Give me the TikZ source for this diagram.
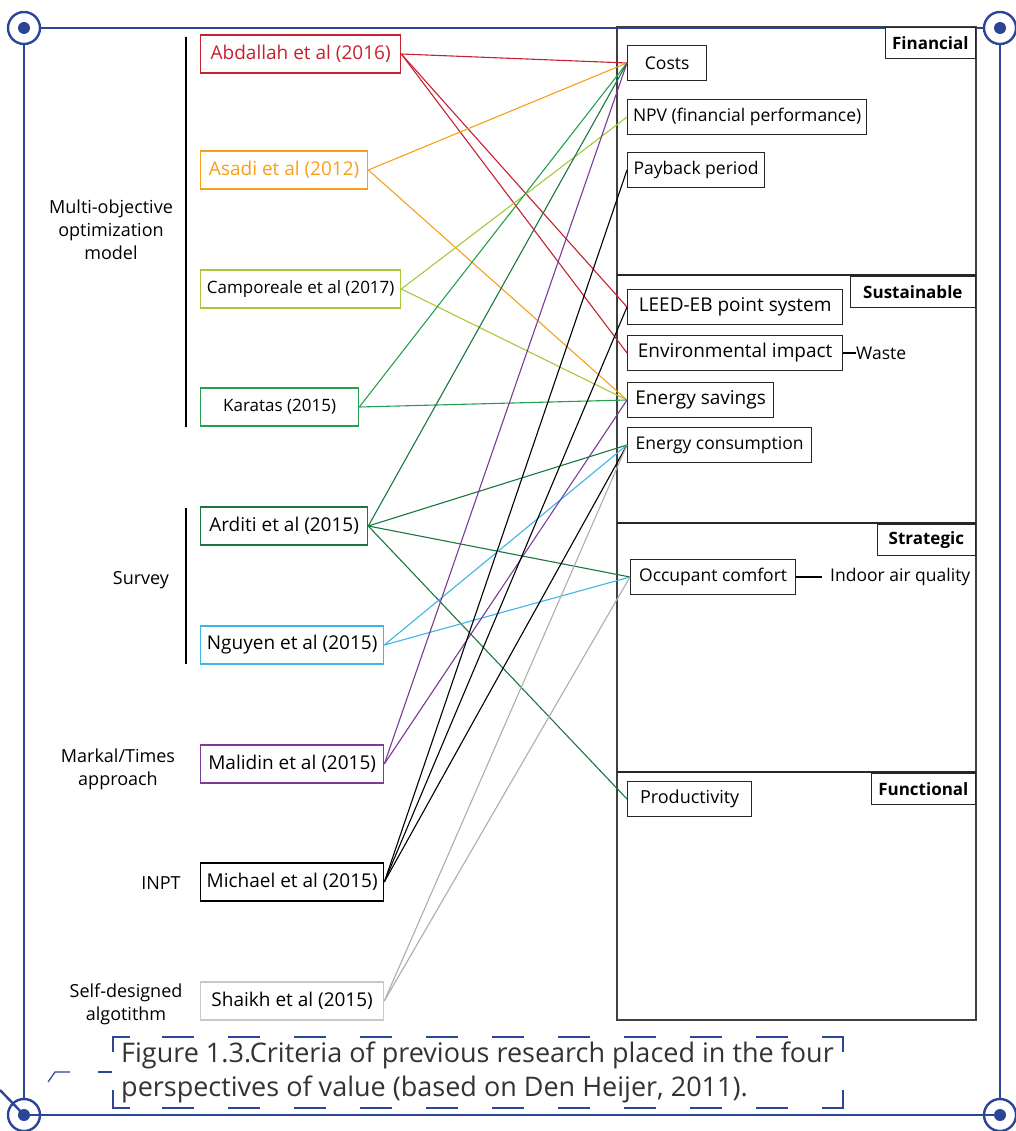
\documentclass[tikz,border=0pt]{standalone}
\usepackage{fontspec}
\setmainfont{Open Sans}
\usetikzlibrary{positioning,calc}

\definecolor{frameblue}{HTML}{2B4597}
\definecolor{cred}{HTML}{C8202F}
\definecolor{corange}{HTML}{F6A01A}
\definecolor{clgreen}{HTML}{A6C93A}
\definecolor{cgreen}{HTML}{24A04E}
\definecolor{cdgreen}{HTML}{1B7640}
\definecolor{cblue}{HTML}{3DB5E6}
\definecolor{cpurple}{HTML}{7B3A96}
\definecolor{cgray}{HTML}{ADADAD}
\definecolor{cboxgray}{HTML}{C9C9C9}
\definecolor{captiongray}{HTML}{333333}

\newcommand{\bigtext}{\fontsize{19}{22}\selectfont}
\newcommand{\midtext}{\fontsize{17.5}{21}\selectfont}

\tikzset{
  study/.style={draw, line width=1.3pt, minimum height=38, inner sep=0pt,
    font=\bigtext, anchor=west},
  crit/.style={draw=black!85, line width=1.3pt, fill=white, minimum height=35, inner sep=0pt,
    font=\midtext, anchor=west},
  persp/.style={draw=black!85, line width=1.3pt, fill=white, minimum height=31, inner sep=0pt,
    font=\fontsize{17}{20}\bfseries\selectfont, anchor=north east},
  method/.style={align=center, font=\fontsize{18}{23}\selectfont},
  link/.style={line width=1.1pt},
  capdash/.style={frameblue, line width=1.2pt}
}

\begin{document}
\begin{tikzpicture}[x=1pt, y=-1pt]
    \useasboundingbox (0,0) rectangle (1016,1131);
    \clip (0,0) rectangle (1016,1131);

    % page frame
    \draw[frameblue, line width=2.6pt] (24,1115) -- (24,28) -- (1000,28) -- (1000,1115) -- cycle;
    \foreach \cx/\cy in {24/28, 1000/28, 24/1115, 1000/1115} {
      \draw[frameblue, line width=2.4pt, fill=white] (\cx,\cy) circle (16);
      \fill[frameblue] (\cx,\cy) circle (6);
    }
    \draw[frameblue, line width=2.4pt] (0,1090) -- (24,1115);
    \draw[frameblue, line width=2.6pt] (24,1115) -- (1000,1115);

    % perspective columns
    \draw[black!75, line width=1.5pt] (617,27) rectangle (976,1020);
    \draw[black!85, line width=1.5pt] (617,275) -- (976,275);
    \draw[black!85, line width=1.5pt] (617,523) -- (976,523);
    \draw[black!85, line width=1.5pt] (617,772) -- (976,772);
    \node[persp, minimum width=90]  (fin)  at (976,27)  {Financial};
    \node[persp, minimum width=125] (sus)  at (976,276) {Sustainable};
    \node[persp, minimum width=98]  (str)  at (976,524) {Strategic};
    \node[persp, minimum width=104] (fun)  at (976,773) {Functional};

    % criteria
    \node[crit, minimum width=79]  (costs)   at (627,63)  {Costs};
    \node[crit, minimum width=239] (npv)     at (627,117) {NPV (financial performance)};
    \node[crit, minimum width=137] (payback) at (627,170) {Payback period};
    \node[crit, minimum width=215, font=\bigtext] (leed)   at (627,307) {LEED-EB point system};
    \node[crit, minimum width=215, font=\bigtext] (envimp) at (627,353) {Environmental impact};
    \node[crit, minimum width=146, font=\bigtext] (saving) at (627,400) {Energy savings};
    \node[crit, minimum width=184] (consum)  at (627,445) {Energy consumption};
    \node[crit, minimum width=165] (comfort) at (630,577) {Occupant comfort};
    \node[crit, minimum width=124, font=\fontsize{18}{21}\selectfont] (product) at (627,799) {Productivity};
    \node[anchor=west, inner sep=0pt, font=\midtext] (waste) at (856,353) {Waste};
    \node[anchor=west, inner sep=0pt, font=\midtext] (iaq) at (830,577) {Indoor air quality};
    \draw[line width=1.1pt] (envimp.east) -- (waste.west);
    \draw[line width=1.1pt] (comfort.east) -- ([xshift=-8]iaq.west);

    % studies
    \node[study, draw=cred, text=cred, minimum width=200]   (abdallah) at (200,54)   {Abdallah et al (2016)};
    \node[study, draw=corange, text=corange, minimum width=167] (asadi) at (200,170) {Asadi et al (2012)};
    \node[study, draw=clgreen, minimum width=200, font=\fontsize{17}{20}\selectfont] (campo) at (200,289) {Camporeale et al (2017)};
    \node[study, draw=cgreen, minimum width=158, font=\fontsize{17}{20}\selectfont] (karatas) at (200,407) {Karatas (2015)\hspace{14pt}};
    \node[study, draw=cdgreen, minimum width=167] (arditi)   at (200,526)  {Arditi et al (2015)};
    \node[study, draw=cblue, minimum width=183]   (nguyen)   at (200,645)  {Nguyen et al (2015)};
    \node[study, draw=cpurple, minimum width=183] (malidin)  at (200,764)  {Malidin et al (2015)};
    \node[study, draw=black, minimum width=183]   (michael)  at (200,882)  {Michael et al (2015)};
    \node[study, draw=cboxgray, minimum width=183] (shaikh)  at (200,1001) {Shaikh et al (2015)};

    % methods
    \node[method] (moo)    at (111,230) {Multi-objective\\optimization\\model};
    \node[method] (survey) at (141,580) {Survey};
    \node[method] (markal) at (118,769) {Markal/Times\\approach};
    \node[method] (inpt)   at (161,883) {INPT};
    \node[method] (selfd)  at (126,1004) {Self-designed\\algotithm};
    \coordinate (mooT) at (186,37);  \coordinate (mooB) at (186,427);
    \coordinate (survT) at (186,508); \coordinate (survB) at (186,664);
    \draw[line width=1.1pt] (mooT) -- (mooB);
    \draw[line width=1.1pt] (survT) -- (survB);

    % links
    \draw[link, cred] (abdallah.east) -- (costs.west);
    \draw[link, cred] (abdallah.east) -- (leed.west);
    \draw[link, cred] (abdallah.east) -- (envimp.west);

    \draw[link, corange] (asadi.east) -- (costs.west);
    \draw[link, corange] (asadi.east) -- (saving.west);

    \draw[link, clgreen] (campo.east) -- (npv.west);
    \draw[link, clgreen] (campo.east) -- (saving.west);

    \draw[link, cgreen] (karatas.east) -- (costs.west);
    \draw[link, cgreen] (karatas.east) -- (saving.west);

    \draw[link, cdgreen] (arditi.east) -- (costs.west);
    \draw[link, cdgreen] (arditi.east) -- (consum.west);
    \draw[link, cdgreen] (arditi.east) -- (comfort.west);
    \draw[link, cdgreen] (arditi.east) -- (product.west);

    \draw[link, cblue] (nguyen.east) -- (consum.west);
    \draw[link, cblue] (nguyen.east) -- (comfort.west);

    \draw[link, cpurple] (malidin.east) -- (costs.west);
    \draw[link, cpurple] (malidin.east) -- (saving.west);

    \draw[link, black] (michael.east) -- (payback.west);
    \draw[link, black] (michael.east) -- (leed.west);
    \draw[link, black] (michael.east) -- (consum.west);

    \draw[link, cgray] (shaikh.east) -- (consum.west);
    \draw[link, cgray] (shaikh.east) -- (comfort.west);

    % caption
    \draw[capdash] (113,1052) -- (113,1037) -- (130,1037);
    \draw[capdash, dash pattern=on 32pt off 34pt] (162,1037) -- (830,1037);
    \draw[capdash] (830,1037) -- (843,1037) -- (843,1052);
    \draw[capdash] (113,1090) -- (113,1108) -- (130,1108);
    \draw[capdash, dash pattern=on 32pt off 34pt] (162,1108) -- (830,1108);
    \draw[capdash] (830,1108) -- (843,1108) -- (843,1090);
    \draw[capdash] (48,1082) -- (55,1072) -- (70,1072);
    \draw[capdash] (98,1072) -- (112,1072);
    \node[anchor=north west, align=left, inner sep=0pt, text=captiongray,
      font=\fontsize{27}{34}\selectfont] (caption) at (121,1042)
      {Figure 1.3.Criteria of previous research placed in the four\\perspectives of value (based on Den Heijer, 2011).};
\end{tikzpicture}
\end{document}
